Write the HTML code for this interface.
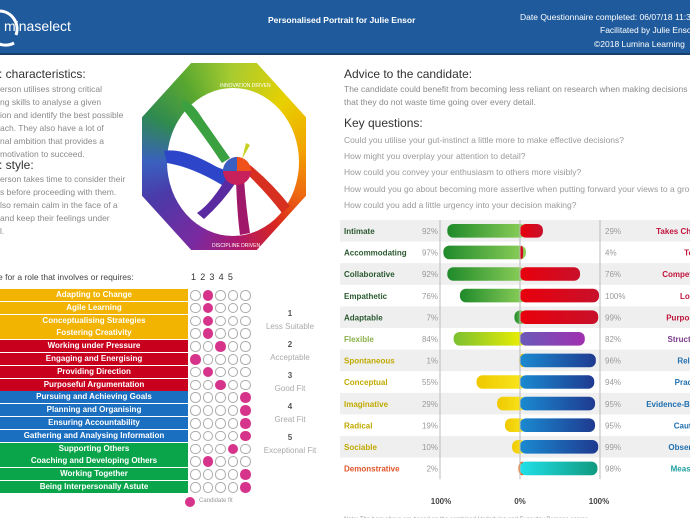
<!DOCTYPE html>
<html><head><meta charset="utf-8">
<style>
*{margin:0;padding:0;box-sizing:border-box}
body{width:690px;height:518px;overflow:hidden;background:#fff;font-family:"Liberation Sans",sans-serif;position:relative}
.abs{position:absolute;white-space:nowrap}
.hdr{position:absolute;left:0;top:0;width:690px;height:55px;background:#1f5b9c;border-bottom:2px solid #163f6e}
.h1{font-size:12px;color:#333}
.gray{font-size:8.5px;color:#8a8a8a}
.trow{position:absolute;left:0;width:188px;height:12px;color:#fff;font-weight:bold;font-size:8px;text-align:center;line-height:12px}
.lg{position:absolute;left:260px;width:60px;text-align:center;font-size:8px;color:#aaa}
</style></head><body>
<div class="hdr">
  <svg class="abs" style="left:-14px;top:5px" width="40" height="44"><path d="M14 6 A18 18 0 0 1 30 30" stroke="#fff" stroke-width="3" fill="none"/><path d="M28 38 A18 18 0 0 1 6 34" stroke="#fff" stroke-width="3" fill="none"/></svg>
  <div class="abs" style="left:4px;top:18px;color:#fff;font-size:14px">mina<span style="font-weight:normal">select</span></div>
  <div class="abs" style="left:268px;top:15px;color:#fff;font-size:8.5px;font-weight:bold">Personalised Portrait for Julie Ensor</div>
  <div class="abs" style="left:520px;top:12px;color:#fff;font-size:8.5px">Date Questionnaire completed: 06/07/18 11:30</div>
  <div class="abs" style="left:600px;top:25px;color:#fff;font-size:8.5px">Facilitated by Julie Ensor</div>
  <div class="abs" style="left:594px;top:39px;color:#fff;font-size:8.5px">©2018 Lumina Learning</div>
</div>

<div class="abs h1" style="left:-1px;top:67px">: characteristics:</div>
<div class="abs gray" style="left:0;top:83px;line-height:13px;white-space:normal;width:140px">erson utilises strong critical<br>ng skills to analyse a given<br>ion and identify the best possible<br>ach. They also have a lot of<br>nal ambition that provides a<br>motivation to succeed.</div>
<div class="abs h1" style="left:-1px;top:158px">: style:</div>
<div class="abs gray" style="left:0;top:173px;line-height:13px;white-space:normal;width:140px">erson takes time to consider their<br>s before proceeding with them.<br>lso remain calm in the face of a<br>and keep their feelings under<br>l.</div>

<div style="position:absolute;left:142px;top:63px;width:164px;height:187px;clip-path:polygon(30% 0,70% 0,100% 29%,100% 71%,70% 100%,30% 100%,0 71%,0 29%);background:conic-gradient(from 0deg at 55% 53%,#a8cc30,#e8d000 40deg,#f2a300 80deg,#ee6a10 115deg,#d8261e 145deg,#b0186a 175deg,#7a2aa0 205deg,#4a3aa8 245deg,#3a60c0 270deg,#2f8a50 300deg,#5aa830 330deg,#a8cc30 360deg)"></div>
<svg class="abs" style="left:142px;top:63px" width="170" height="190">
  <ellipse cx="91" cy="99" rx="66" ry="74" fill="#fff"/>
  <g font-size="5" fill="#fff" font-family="Liberation Sans">
    <text x="78" y="24">INNOVATION DRIVEN</text>
    <text x="70" y="184">DISCIPLINE DRIVEN</text>
  </g>
  <g>
    <path d="M22 88 Q40 84 75 104 L90 110 L80 122 Q50 104 25 100 Z" fill="#2d45c8"/>
    <path d="M40 38 Q48 36 60 55 L88 95 L80 100 Q60 70 40 45 Z" fill="#3aa040"/>
    <path d="M86 112 Q70 140 55 150 L62 156 Q80 140 95 118 Z" fill="#5a2aa0"/>
    <path d="M94 116 Q95 150 98 172 L108 170 Q104 145 102 116 Z" fill="#a0186a"/>
    <path d="M102 108 Q125 130 140 150 L148 143 Q130 120 108 102 Z" fill="#d83020"/>
    <circle cx="95" cy="108" r="14" fill="#c8205a"/>
    <path d="M95 108 L95 94 A14 14 0 0 1 109 108 Z" fill="#f0501a"/>
    <path d="M95 108 L81 108 A14 14 0 0 1 95 94 Z" fill="#3a5fc0"/>
    <path d="M100 96 L104 80 L108 82 Z" fill="#c8d020"/>
  </g>
</svg>

<div class="abs h1" style="left:344px;top:67px">Advice to the candidate:</div>
<div class="abs gray" style="left:344px;top:83px;line-height:12.5px">The candidate could benefit from becoming less reliant on research when making decisions so<br>that they do not waste time going over every detail.</div>
<div class="abs h1" style="left:344px;top:116px">Key questions:</div>
<div class="abs gray" style="left:344px;top:132px;line-height:16.2px;color:#9a9a9a">Could you utilise your gut-instinct a little more to make effective decisions?<br>How might you overplay your attention to detail?<br>How could you convey your enthusiasm to others more visibly?<br>How would you go about becoming more assertive when putting forward your views to a group?<br>How could you add a little urgency into your decision making?</div>

<div class="abs" style="left:-2px;top:272px;font-size:8.5px;color:#444">e for a role that involves or requires:</div>
<div id="table"></div>
<div class="lg" style="top:309px;color:#555;font-weight:bold">1</div><div class="lg" style="top:322px">Less Suitable</div>
<div class="lg" style="top:340px;color:#555;font-weight:bold">2</div><div class="lg" style="top:353px">Acceptable</div>
<div class="lg" style="top:371px;color:#555;font-weight:bold">3</div><div class="lg" style="top:384px">Good Fit</div>
<div class="lg" style="top:402px;color:#555;font-weight:bold">4</div><div class="lg" style="top:415px">Great Fit</div>
<div class="lg" style="top:433px;color:#555;font-weight:bold">5</div><div class="lg" style="top:446px">Exceptional Fit</div>
<div class="abs" style="left:185px;top:497px;width:10px;height:10px;border-radius:50%;background:#d6338a"></div>
<div class="abs" style="left:199px;top:498px;font-size:6px;color:#999">Candidate fit</div>

<svg class="abs" style="left:340px;top:220px" width="350" height="298" id="bars"></svg>

<script>
const roles=["Adapting to Change","Agile Learning","Conceptualising Strategies","Fostering Creativity","Working under Pressure","Engaging and Energising","Providing Direction","Purposeful Argumentation","Pursuing and Achieving Goals","Planning and Organising","Ensuring Accountability","Gathering and Analysing Information","Supporting Others","Coaching and Developing Others","Working Together","Being Interpersonally Astute"];
const roleFit=[2,2,2,2,3,1,2,3,5,5,5,5,4,2,5,5];
const roleGroupColors=["#f2b400","#c8001e","#1b6fc0","#0aa54a"];
const leftLabels=["Intimate","Accommodating","Collaborative","Empathetic","Adaptable","Flexible","Spontaneous","Conceptual","Imaginative","Radical","Sociable","Demonstrative"];
const leftValues=[92,97,92,76,7,84,1,55,29,19,10,2];
const rightLabels=["Takes Charge","Tough","Competitive","Logical","Purposeful","Structured","Reliable","Practical","Evidence-Based","Cautious","Observant","Measured"];
const rightValues=[29,4,76,100,99,82,96,94,95,95,99,98];
const axisLabels=["100%","0%","100%"];

const T=document.getElementById('table');
let html='';
html+='<div class="abs" style="left:191px;top:272px;font-size:9px;color:#333;letter-spacing:4.2px">12345</div>';
roles.forEach((r,i)=>{
  const y=289+i*12.8;
  html+=`<div class="trow" style="top:${y}px;background:${roleGroupColors[Math.floor(i/4)]}">${r}</div>`;
  for(let k=1;k<=5;k++){
    const sel=roleFit[i]===k;
    html+=`<div class="abs" style="left:${190+(k-1)*12.5}px;top:${y+1}px;width:10.5px;height:10.5px;border-radius:50%;${sel?'background:#d6338a':'border:1px solid #aaa;background:#fff'}"></div>`;
  }
});
T.innerHTML=html;

const S=document.getElementById('bars');
const NS='http://www.w3.org/2000/svg';
const cx=180, scale=0.79, rowH=21.6, y0=0;
const rowY=i=>y0+i*rowH;
const lx=v=>cx-v*scale, rx=v=>cx+v*scale;
function mk(t,a,p){const e=document.createElementNS(NS,t);for(const k in a)e.setAttribute(k,a[k]);(p||S).appendChild(e);return e;}
const defs=mk('defs',{});
const grads={g:['#1f8a2a','#8fd05a'],fl:['#7cc030','#f0f000'],y:['#f0c800','#f8e820'],o:['#f07a20','#e05020'],r:['#e8000c','#c8102a'],p:['#6a5ab8','#a030b0'],b:['#1a8ad0','#1f3a90'],t:['#20e0e8','#109a80']};
for(const k in grads){const g=mk('linearGradient',{id:'gr'+k,x1:0,x2:1,y1:0,y2:0},defs);mk('stop',{offset:0,'stop-color':grads[k][0]},g);mk('stop',{offset:1,'stop-color':grads[k][1]},g);}
const lCol=i=>i<5?'g':i===5?'fl':i<11?'y':'o';
const rCol=i=>i<5?'r':i===5?'p':i<11?'b':'t';
const lTxt=i=>i<5?'#2b5a30':i===5?'#8ab04a':i<11?'#c0aa00':'#e0552a';
const rTxt=i=>i<5?'#c0143c':i===5?'#7b3c8c':i<11?'#1e6fb0':'#20a0a0';
leftLabels.forEach((l,i)=>{
  const y=rowY(i);
  if(i%2===0){const bg=mk('rect',{x:0,y:y,width:350,height:rowH,fill:'#efefef'});}
  const t=mk('text',{x:4,y:y+14,'font-size':8,'font-weight':'bold',fill:lTxt(i)});t.textContent=l;
  
  const p=mk('text',{x:98,y:y+14,'font-size':8,fill:'#999','text-anchor':'end'});p.textContent=leftValues[i]+'%';
  const bw=leftValues[i]*scale;
  const b=mk('rect',{x:lx(leftValues[i]),y:y+4,width:bw+6,height:rowH-8,rx:6,fill:'url(#gr'+lCol(i)+')'});
  
  const rw=rightValues[i]*scale;
  const rb=mk('rect',{x:cx,y:y+4,width:rw,height:rowH-8,rx:6,fill:'url(#gr'+rCol(i)+')'});
  
  const rp=mk('text',{x:265,y:y+14,'font-size':8,fill:'#999'});rp.textContent=rightValues[i]+'%';
  const rt=mk('text',{x:368,y:y+14,'font-size':8,'font-weight':'bold',fill:rTxt(i),'text-anchor':'end'});rt.textContent=rightLabels[i];
  
});
const H=rowY(leftLabels.length);
mk('line',{x1:lx(100)-1,x2:lx(100)-1,y1:0,y2:H,stroke:'#bbb'});
mk('line',{x1:cx,x2:cx,y1:0,y2:H,stroke:'#bbb'});
mk('line',{x1:rx(100)+1,x2:rx(100)+1,y1:0,y2:H,stroke:'#bbb'});
[lx(100),cx,rx(100)].forEach((x,i)=>{const t=mk('text',{x:x,y:H+25,'font-size':8,'font-weight':'bold',fill:'#444','text-anchor':'middle'});t.textContent=axisLabels[i];});
const note=mk('text',{x:4,y:H+42,'font-size':6,fill:'#999'});note.textContent='Note: The bars above are based on the combined Underlying and Everyday Persona scores';

</script>
</body></html>
